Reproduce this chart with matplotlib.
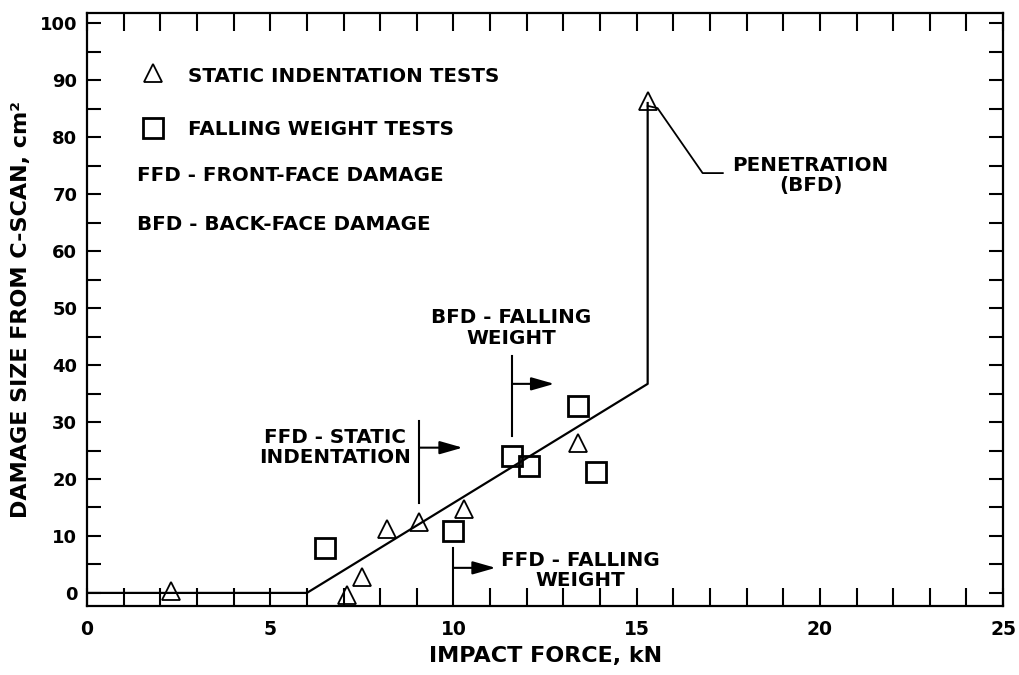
import matplotlib
matplotlib.use("Agg")
import matplotlib.pyplot as plt
from matplotlib.ticker import MultipleLocator

# fitted damage curve (kN vs cm^2)
curve_force = [0.0, 6.0, 15.3, 15.3]
curve_damage = [0.0, 0.0, 36.7, 86.0]

# static indentation tests
static_force = [2.3, 7.1, 7.5, 8.2, 9.05, 10.3, 13.4, 15.3]
static_damage = [0.4, -0.3, 2.8, 11.2, 12.4, 14.7, 26.3, 86.3]

# falling weight tests
drop_force = [6.5, 10.0, 11.6, 12.05, 13.4, 13.9]
drop_damage = [7.9, 10.8, 24.0, 22.2, 32.9, 21.3]

x_ticks = [0, 5, 10, 15, 20, 25]
y_ticks = [0, 10, 20, 30, 40, 50, 60, 70, 80, 90, 100]

plt.rcParams['font.family'] = ['DejaVu Sans']
plt.rcParams['font.weight'] = 'bold'

fig = plt.figure(figsize=(10.19, 6.75), dpi=100)
ax = fig.add_axes([0.0854, 0.1022, 0.899, 0.8785])

ax.plot(curve_force, curve_damage, color="k", lw=1.6)
ax.plot(static_force, static_damage, ls="none", marker="^", ms=13,
        mfc="none", mec="k", mew=1.3)
ax.plot(drop_force, drop_damage, ls="none", marker="s", ms=15,
        mfc="none", mec="k", mew=2.0)

ax.set_xlim(0, 25)
ax.set_ylim(-2.3, 101.8)
ax.set_xticks(x_ticks)
ax.set_yticks(y_ticks)
ax.xaxis.set_minor_locator(MultipleLocator(1))
ax.yaxis.set_minor_locator(MultipleLocator(5))
ax.tick_params(axis="x", which="both", direction="in", length=13, width=1.5,
               top=True, labelsize=13.5, pad=10)
ax.tick_params(axis="y", which="both", direction="in", length=10, width=1.5,
               right=True, labelsize=13, pad=7)
for s in ax.spines.values():
    s.set_linewidth(1.6)

ax.set_xlabel("IMPACT FORCE, kN", fontsize=16, fontweight="bold", labelpad=5)
ax.set_ylabel("DAMAGE SIZE FROM C-SCAN, cm\u00b2", fontsize=16,
              fontweight="bold", labelpad=6)

# legend drawn as text in the plot
fs = 14.3
ax.plot([1.8], [91.2], ls="none", marker="^", ms=13, mfc="none", mec="k", mew=1.3)
ax.plot([1.8], [81.6], ls="none", marker="s", ms=15, mfc="none", mec="k", mew=2.0)
ax.text(2.76, 90.6, "STATIC INDENTATION TESTS", fontsize=fs, va="center")
ax.text(2.76, 81.3, "FALLING WEIGHT TESTS", fontsize=fs, va="center")
ax.text(1.37, 73.3, "FFD - FRONT-FACE DAMAGE", fontsize=fs, va="center")
ax.text(1.37, 64.7, "BFD - BACK-FACE DAMAGE", fontsize=fs, va="center")

# bracket annotations: text, text pos, bar x, bar y range, arrow y, arrow end
notes = [
    ("FFD - STATIC\nINDENTATION", (6.78, 25.5), 9.07, (15.7, 30.2), 25.5, 10.25),
    ("BFD - FALLING\nWEIGHT", (11.58, 46.5), 11.6, (27.6, 41.6), 36.7, 12.75),
    ("FFD - FALLING\nWEIGHT", (13.47, 3.9), 10.0, (1.0, 7.9), 4.4, 11.15),
]
for txt, pos, bx, (y0, y1), ay, ax_end in notes:
    ax.text(pos[0], pos[1], txt, fontsize=fs, ha="center", va="center",
            linespacing=1.1)
    ax.plot([bx, bx], [y0, y1], color="k", lw=1.5)
    ax.annotate("", xy=(ax_end, ay), xytext=(bx, ay),
                arrowprops=dict(arrowstyle="-|>,head_length=0.7,head_width=0.2",
                                mutation_scale=20, lw=1.5, color="k",
                                shrinkA=0, shrinkB=0))

# penetration leader
ax.plot([15.3, 15.57, 16.8, 17.35], [85.5, 85.1, 73.7, 73.7], color="k", lw=1.3)
ax.text(19.75, 73.3, "PENETRATION\n(BFD)", fontsize=fs, ha="center",
        va="center", linespacing=1.1)

fig.savefig("out.png", dpi=100)
